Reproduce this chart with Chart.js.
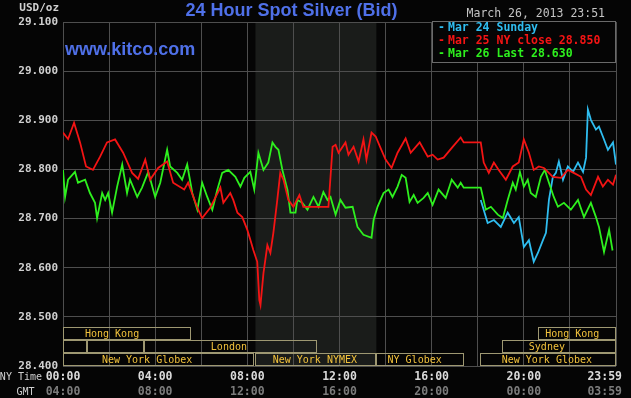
<!DOCTYPE html>
<html>
<head>
<meta charset="utf-8">
<script src="https://cdn.jsdelivr.net/npm/chart.js@4/dist/chart.umd.min.js"></script>
<style>
  html, body { margin: 0; padding: 0; background: #050505; }
  #wrap { width: 631px; height: 398px; }
</style>
</head>
<body>
<div id="wrap"><canvas id="c" width="631" height="398"></canvas></div>
<script>
// ---- data (hour of NY day, price USD/oz) ----
const mar24Sunday = [[18.13,28.738],[18.43,28.691],[18.70,28.697],[19.0,28.683],[19.30,28.712],[19.57,28.691],[19.78,28.703],[20.0,28.642],[20.22,28.656],[20.43,28.612],[20.61,28.630],[20.83,28.656],[20.96,28.671],[21.09,28.738],[21.26,28.785],[21.39,28.793],[21.52,28.816],[21.70,28.779],[21.91,28.806],[22.13,28.795],[22.35,28.814],[22.57,28.795],[22.70,28.824],[22.78,28.922],[22.91,28.901],[23.13,28.881],[23.26,28.887],[23.43,28.867],[23.65,28.840],[23.87,28.855],[24.0,28.810]];

const mar25Close = [[0,28.875],[0.22,28.862],[0.48,28.895],[0.74,28.855],[1.0,28.806],[1.30,28.799],[1.61,28.826],[1.91,28.855],[2.26,28.861],[2.61,28.834],[3.0,28.793],[3.26,28.781],[3.57,28.820],[3.78,28.779],[4.13,28.803],[4.52,28.816],[4.78,28.773],[5.26,28.759],[5.43,28.773],[5.83,28.722],[6.04,28.701],[6.39,28.722],[6.83,28.763],[6.96,28.732],[7.26,28.752],[7.39,28.738],[7.57,28.712],[7.78,28.703],[8.0,28.677],[8.13,28.657],[8.26,28.636],[8.43,28.612],[8.52,28.534],[8.57,28.524],[8.70,28.589],[8.87,28.646],[9.0,28.630],[9.13,28.671],[9.30,28.738],[9.43,28.793],[9.57,28.779],[9.78,28.738],[10.0,28.724],[10.26,28.748],[10.43,28.724],[11.52,28.724],[11.61,28.785],[11.70,28.846],[11.83,28.850],[11.96,28.834],[12.26,28.855],[12.39,28.830],[12.61,28.846],[12.83,28.816],[13.04,28.861],[13.17,28.820],[13.39,28.875],[13.57,28.867],[13.78,28.844],[14.0,28.820],[14.26,28.803],[14.52,28.834],[14.87,28.863],[15.09,28.834],[15.48,28.855],[15.83,28.826],[16.04,28.830],[16.26,28.820],[16.52,28.824],[16.91,28.846],[17.26,28.865],[17.39,28.855],[18.13,28.855],[18.26,28.814],[18.48,28.793],[18.70,28.814],[18.91,28.799],[19.22,28.779],[19.52,28.806],[19.78,28.814],[20.0,28.861],[20.22,28.834],[20.43,28.799],[20.65,28.806],[20.87,28.803],[21.26,28.785],[21.61,28.783],[21.91,28.799],[22.17,28.793],[22.48,28.785],[22.70,28.759],[22.91,28.748],[23.22,28.785],[23.43,28.765],[23.65,28.779],[23.87,28.769],[24.0,28.789]];

const mar26Last = [[0,28.799],[0.09,28.744],[0.22,28.779],[0.52,28.795],[0.65,28.773],[0.96,28.779],[1.17,28.752],[1.39,28.732],[1.48,28.701],[1.70,28.752],[1.83,28.738],[1.96,28.752],[2.13,28.712],[2.35,28.765],[2.57,28.810],[2.78,28.752],[2.91,28.779],[3.22,28.744],[3.43,28.763],[3.70,28.795],[4.0,28.744],[4.22,28.773],[4.52,28.840],[4.65,28.806],[4.96,28.793],[5.17,28.779],[5.39,28.810],[5.61,28.752],[5.83,28.718],[6.04,28.773],[6.26,28.744],[6.48,28.718],[6.70,28.759],[6.91,28.793],[7.17,28.799],[7.48,28.785],[7.70,28.765],[7.87,28.783],[8.13,28.795],[8.30,28.759],[8.48,28.834],[8.70,28.799],[8.91,28.814],[9.09,28.855],[9.22,28.846],[9.35,28.840],[9.52,28.799],[9.74,28.759],[9.87,28.712],[10.09,28.712],[10.17,28.738],[10.39,28.732],[10.61,28.718],[10.87,28.744],[11.09,28.724],[11.30,28.754],[11.48,28.738],[11.61,28.744],[11.83,28.708],[12.04,28.738],[12.26,28.722],[12.57,28.724],[12.78,28.683],[13.04,28.667],[13.39,28.661],[13.48,28.697],[13.65,28.724],[13.91,28.752],[14.13,28.759],[14.30,28.744],[14.52,28.765],[14.70,28.789],[14.87,28.783],[15.04,28.734],[15.22,28.748],[15.39,28.732],[15.65,28.742],[15.83,28.752],[16.04,28.728],[16.30,28.759],[16.61,28.742],[16.87,28.779],[17.13,28.763],[17.26,28.773],[17.39,28.763],[18.13,28.763],[18.35,28.718],[18.57,28.724],[18.87,28.708],[19.09,28.701],[19.30,28.738],[19.52,28.773],[19.65,28.759],[19.83,28.795],[20.0,28.765],[20.17,28.779],[20.30,28.752],[20.52,28.744],[20.74,28.785],[20.91,28.799],[21.09,28.773],[21.30,28.744],[21.48,28.724],[21.74,28.732],[22.04,28.718],[22.35,28.738],[22.61,28.703],[22.91,28.732],[23.13,28.703],[23.26,28.683],[23.48,28.632],[23.70,28.677],[23.85,28.635]];

const seriesNames = ['Mar 24 Sunday', 'Mar 25 NY close 28.850', 'Mar 26 Last 28.630'];

const yTicks = [28.4, 28.5, 28.6, 28.7, 28.8, 28.9, 29.0, 29.1];
const gridHours = [0, 2, 4, 6, 8, 10, 12, 14, 16, 18, 20, 22, 24];
const labelHours = [0, 4, 8, 12, 16, 20, 24];
const nyTimeLabels = ['00:00', '04:00', '08:00', '12:00', '16:00', '20:00', '23:59'];
const gmtLabels = ['04:00', '08:00', '12:00', '16:00', '20:00', '00:00', '03:59'];

// NYMEX pit session (shaded)
const nymexSession = [8.35, 13.6];

// market session boxes: name, start hour, end hour, row (0 top), label centre hour
const sessionNames = ['Hong Kong', '', '', 'London', 'New York Globex', 'New York NYMEX', 'NY Globex', 'New York Globex', 'Sydney', 'Hong Kong'];
const sessionStart = [0, 0, 1.04, 3.52, 0, 8.35, 13.6, 18.09, 19.04, 20.6];
const sessionEnd   = [5.56, 1.04, 3.52, 11.04, 8.28, 13.6, 17.4, 24, 24, 24];
const sessionRow   = [0, 1, 1, 1, 2, 2, 2, 2, 1, 0];
const sessionLabelAt = [2.13, 0, 0, 7.2, 3.65, 10.93, 15.26, 21.0, 21.0, 22.1];

const titleText = '24 Hour Spot Silver (Bid)';
const siteText = 'www.kitco.com';
const stampText = 'March 26, 2013 23:51';

// ---- styles ----
const colBlue = '#2fbdf0';
const colRed = '#f41414';
const colGreen = '#2ef01e';
const mono = '"DejaVu Sans Mono", "Liberation Mono", monospace';
const sans = '"Liberation Sans", Arial, sans-serif';

const toPts = arr => arr.map(p => ({x: p[0], y: p[1]}));

const decor = {
  id: 'decor',
  beforeDraw(chart) {
    const {ctx, chartArea: a, scales: {x}} = chart;
    ctx.save();
    ctx.fillStyle = '#050505';
    ctx.fillRect(0, 0, chart.width, chart.height);
    const x0 = x.getPixelForValue(nymexSession[0]);
    const x1 = x.getPixelForValue(nymexSession[1]);
    ctx.fillStyle = '#1a1c1a';
    ctx.fillRect(x0, a.top, x1 - x0, a.bottom - a.top);
    ctx.restore();
  },
  afterDraw(chart) {
    const {ctx, chartArea: a, scales: {x}} = chart;
    ctx.save();
    // session boxes
    const rowH = 13;
    ctx.lineWidth = 1;
    ctx.font = '10px ' + mono;
    ctx.textAlign = 'center';
    ctx.textBaseline = 'middle';
    for (let i = 0; i < sessionNames.length; i++) {
      const top = a.bottom - (3 - sessionRow[i]) * rowH;
      const l = Math.round(x.getPixelForValue(sessionStart[i])) + 0.5;
      const r = Math.round(x.getPixelForValue(sessionEnd[i])) - 0.5;
      ctx.strokeStyle = '#9e9872';
      ctx.strokeRect(l, Math.round(top) + 0.5, r - l, rowH - 1);
      if (sessionNames[i]) {
        ctx.fillStyle = '#f2c23c';
        ctx.fillText(sessionNames[i], x.getPixelForValue(sessionLabelAt[i]), top + rowH / 2 + 0.5);
      }
    }
    // legend box
    const lx = 432.5, ly = Math.round(a.top) - 0.5;
    ctx.fillStyle = '#050505';
    ctx.fillRect(lx, ly, a.right - lx, 41);
    ctx.strokeStyle = '#6a6a6a';
    ctx.strokeRect(lx, ly, Math.round(a.right) - lx - 0.5, 41);
    ctx.font = 'bold 11.5px ' + mono;
    ctx.textAlign = 'left';
    const legendCols = [colBlue, colRed, colGreen];
    for (let i = 0; i < seriesNames.length; i++) {
      ctx.fillStyle = legendCols[i];
      ctx.fillText('-', 438, ly + 7 + i * 12.7);
      ctx.fillText(seriesNames[i], 448, ly + 7 + i * 12.7);
    }
    // time stamp
    ctx.fillStyle = '#c4c4c4';
    ctx.textAlign = 'right';
    ctx.font = '11.5px ' + mono;
    ctx.fillText(stampText, 605, 14);
    // title
    ctx.fillStyle = '#4f70e8';
    ctx.font = 'bold 18px ' + sans;
    ctx.textAlign = 'center';
    ctx.textBaseline = 'alphabetic';
    ctx.fillText(titleText, 291.5, 15.5);
    ctx.textAlign = 'left';
    ctx.fillText(siteText, 65, 55);
    // y unit
    ctx.fillStyle = '#d0d0d0';
    ctx.font = 'bold 11px ' + mono;
    ctx.textAlign = 'right';
    ctx.textBaseline = 'middle';
    ctx.fillText('USD/oz', 59, 8);
    // x labels
    ctx.font = '10px ' + mono;
    ctx.fillText('NY Time', 42, a.bottom + 11);
    ctx.textAlign = 'center';
    ctx.fillText('GMT', 25.5, a.bottom + 26);
    ctx.font = 'bold 11.5px ' + mono;
    for (let i = 0; i < labelHours.length; i++) {
      let px = x.getPixelForValue(labelHours[i]);
      ctx.textAlign = 'center';
      if (i === labelHours.length - 1) { ctx.textAlign = 'right'; px += 6; }
      ctx.fillStyle = '#dadada';
      ctx.fillText(nyTimeLabels[i], px, a.bottom + 11);
      ctx.fillStyle = '#7c7c7c';
      ctx.fillText(gmtLabels[i], px, a.bottom + 26);
    }
    ctx.restore();
  }
};

new Chart(document.getElementById('c'), {
  type: 'line',
  data: {
    datasets: [
      { label: seriesNames[1], data: toPts(mar25Close), borderColor: colRed, order: 1 },
      { label: seriesNames[2], data: toPts(mar26Last), borderColor: colGreen, order: 2 },
      { label: seriesNames[0], data: toPts(mar24Sunday), borderColor: colBlue, order: 3 }
    ]
  },
  options: {
    responsive: false,
    animation: false,
    layout: { padding: { left: 0, right: 15, top: 22, bottom: 0 } },
    elements: { point: { radius: 0 }, line: { borderWidth: 1.8, tension: 0 } },
    plugins: { legend: { display: false }, tooltip: { enabled: false } },
    scales: {
      x: {
        type: 'linear', min: 0, max: 24,
        afterBuildTicks: s => { s.ticks = gridHours.map(v => ({value: v})); },
        ticks: { display: false },
        grid: { color: '#4e4e4e', drawTicks: false },
        border: { display: false },
        afterFit: s => { s.height = 32; }
      },
      y: {
        min: 28.4, max: 29.1,
        afterBuildTicks: s => { s.ticks = yTicks.map(v => ({value: v})); },
        ticks: {
          color: '#d0d0d0', padding: 5,
          font: { family: mono, size: 11, weight: 'bold' },
          callback: v => Number(v).toFixed(3)
        },
        grid: { color: '#4e4e4e', drawTicks: false },
        border: { display: false },
        afterFit: s => { s.width = 63; }
      }
    }
  },
  plugins: [decor]
});
</script>
</body>
</html>
